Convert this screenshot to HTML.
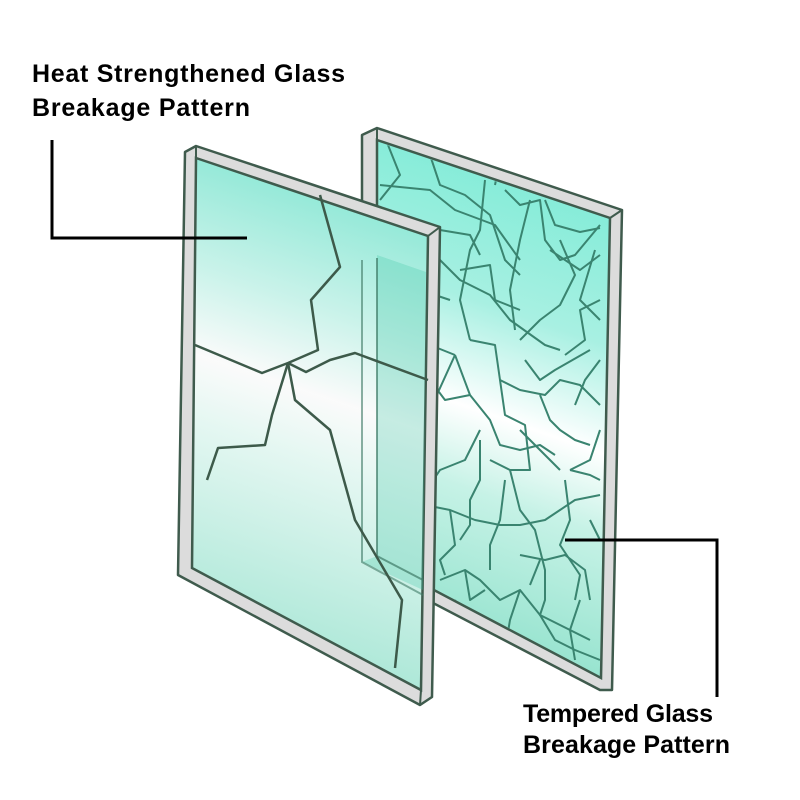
<!DOCTYPE html>
<html><head><meta charset="utf-8"><style>
html,body{margin:0;padding:0;background:#fff;width:800px;height:800px;overflow:hidden}
text{font-family:"Liberation Sans",sans-serif;font-weight:bold;font-size:25px;fill:#000}
</style></head><body>
<svg width="800" height="800" style="position:absolute;left:0;top:0">
<defs>
<linearGradient id="g" x1="0.15" y1="0" x2="0" y2="1">
<stop offset="0" stop-color="#86ead6"/>
<stop offset="0.22" stop-color="#c8f6ec"/>
<stop offset="0.38" stop-color="#ffffff"/>
<stop offset="0.5" stop-color="#e6fbf5"/>
<stop offset="1" stop-color="#8ee3cc"/>
</linearGradient>
<linearGradient id="g2" x1="0.15" y1="0" x2="0" y2="1">
<stop offset="0" stop-color="#84ecd8"/>
<stop offset="0.25" stop-color="#a8f0e2"/>
<stop offset="0.45" stop-color="#ffffff"/>
<stop offset="0.6" stop-color="#c6f2e6"/>
<stop offset="1" stop-color="#7edcc3"/>
</linearGradient>
<clipPath id="bc"><polygon points="378,142 608,219 600,676 378,559"/></clipPath>
</defs>
<polygon points="362,135 377,128 622,210 612,690 600,690 362,566" fill="#dcdcdc" stroke="#3f5b4d" stroke-width="2.5" stroke-linejoin="round"/>
<polygon points="377,140 610,218 601,678 377,560" fill="url(#g2)" stroke="#3f5b4d" stroke-width="2.5"/>
<line x1="610" y1="218" x2="622" y2="210" stroke="#3f5b4d" stroke-width="2"/>
<line x1="377" y1="128" x2="377" y2="140" stroke="#3f5b4d" stroke-width="2"/>
<g fill="none" stroke="#3a8470" stroke-width="2" stroke-linejoin="round" clip-path="url(#bc)">
<path d="M388,145 L400,175 L380,200"/>
<path d="M380,185 L430,190 L455,210 L495,225 L520,260"/>
<path d="M430,155 L440,185 L465,195 L490,215 L505,260 L520,275"/>
<path d="M485,180 L480,230 L470,250 L460,300 L470,340"/>
<path d="M505,190 L520,205 L540,200 L545,240 L560,260 L575,255 L600,225"/>
<path d="M530,200 L520,240 L510,290 L515,330"/>
<path d="M380,240 L420,255 L440,260 L460,280 L490,295 L510,320 L545,345 L560,350"/>
<path d="M380,270 L420,290 L450,300"/>
<path d="M380,300 L400,305 L415,330 L430,345 L455,355"/>
<path d="M550,250 L580,270 L600,255"/>
<path d="M560,240 L575,275 L560,305 L540,320 L520,340"/>
<path d="M460,270 L490,265 L495,300 L520,310"/>
<path d="M600,300 L580,310 L585,340 L565,355"/>
<path d="M470,340 L495,345 L500,380 L520,390 L545,395 L560,380 L580,385 L600,405"/>
<path d="M455,355 L470,395 L490,420 L500,445 L520,450 L540,445 L555,455"/>
<path d="M455,355 L430,410 L420,430 L375,430"/>
<path d="M500,380 L505,415 L525,425 L530,470 L510,470"/>
<path d="M540,395 L550,420 L560,430 L575,440 L590,445"/>
<path d="M600,360 L585,380 L575,405"/>
<path d="M420,500 L440,470 L465,460 L480,430"/>
<path d="M480,440 L480,480 L470,500 L470,525 L460,540"/>
<path d="M490,460 L510,470 L520,510 L535,530 L545,570 L545,600 L540,615"/>
<path d="M505,480 L500,520 L490,545 L490,570"/>
<path d="M425,505 L450,510 L475,520 L500,525 L520,525 L545,520 L560,510 L575,500 L600,495"/>
<path d="M450,510 L455,545 L440,560 L445,575"/>
<path d="M570,470 L590,475 L600,480"/>
<path d="M565,480 L570,520 L560,545 L570,560 L580,575 L575,600"/>
<path d="M520,555 L545,560 L565,555 L585,570 L590,600"/>
<path d="M440,580 L465,570 L480,580 L500,600 L520,590 L540,615 L560,625 L590,640"/>
<path d="M520,590 L510,620 L505,650"/>
<path d="M540,615 L555,640 L575,650 L600,660"/>
<path d="M580,600 L570,630 L575,660"/>
<path d="M465,570 L470,600 L485,590"/>
<path d="M540,560 L530,585"/>
<path d="M545,200 L555,225 L580,232 L600,228"/>
<path d="M595,250 L580,300 L600,320"/>
<path d="M440,230 L470,235 L480,255"/>
<path d="M500,160 L495,185"/>
<path d="M525,360 L540,380 L555,370 L590,350"/>
<path d="M430,380 L445,400 L470,395"/>
<path d="M600,430 L590,460 L570,470"/>
<path d="M520,430 L560,470"/>
<path d="M455,600 L470,630 L490,620"/>
<path d="M590,520 L600,540"/>
</g>
<polygon points="185,152 196,146 440,227 432,697 420,705 178,575" fill="#dcdcdc" stroke="#3f5b4d" stroke-width="2.5" stroke-linejoin="round"/>
<polygon points="196,158 428,236 421,690 192,568" fill="url(#g)" fill-opacity="0.88" stroke="#3f5b4d" stroke-width="2.5"/>
<line x1="196" y1="146" x2="196" y2="158" stroke="#3f5b4d" stroke-width="2"/>
<line x1="428" y1="236" x2="440" y2="227" stroke="#3f5b4d" stroke-width="2"/>
<line x1="421" y1="690" x2="420" y2="705" stroke="#3f5b4d" stroke-width="2"/>
<polygon points="377,255 426,272 423,590 362,562 377,556" fill="#3ec7a4" fill-opacity="0.28"/>
<polyline points="377,258 377,556 423,580" fill="none" stroke="#3f7a66" stroke-width="2" stroke-opacity="0.7"/>
<polyline points="362,260 362,562 423,595" fill="none" stroke="#3f7a66" stroke-width="2" stroke-opacity="0.6"/>
<g fill="none" stroke="#3d5a4a" stroke-width="2.5" stroke-linejoin="round">
<path d="M195,345 L262,373 L288,363 L318,350 L311,300 L340,267 L320,195"/>
<path d="M288,363 L306,372 L330,360 L355,353 L428,380"/>
<path d="M288,363 L272,415 L265,445 L218,448 L207,480"/>
<path d="M288,363 L295,400 L330,430 L355,520 L402,600 L395,668"/>
</g>
<polyline points="52,140 52,238 247,238" fill="none" stroke="#000" stroke-width="3"/>
<polyline points="565,540 717,540 717,697" fill="none" stroke="#000" stroke-width="3"/>
<text x="32" y="82" textLength="313" lengthAdjust="spacing">Heat Strengthened Glass</text>
<text x="32" y="116" textLength="218" lengthAdjust="spacing">Breakage Pattern</text>
<text x="523" y="722" textLength="190" lengthAdjust="spacing">Tempered Glass</text>
<text x="523" y="753" textLength="207" lengthAdjust="spacing">Breakage Pattern</text>
</svg>
</body></html>
